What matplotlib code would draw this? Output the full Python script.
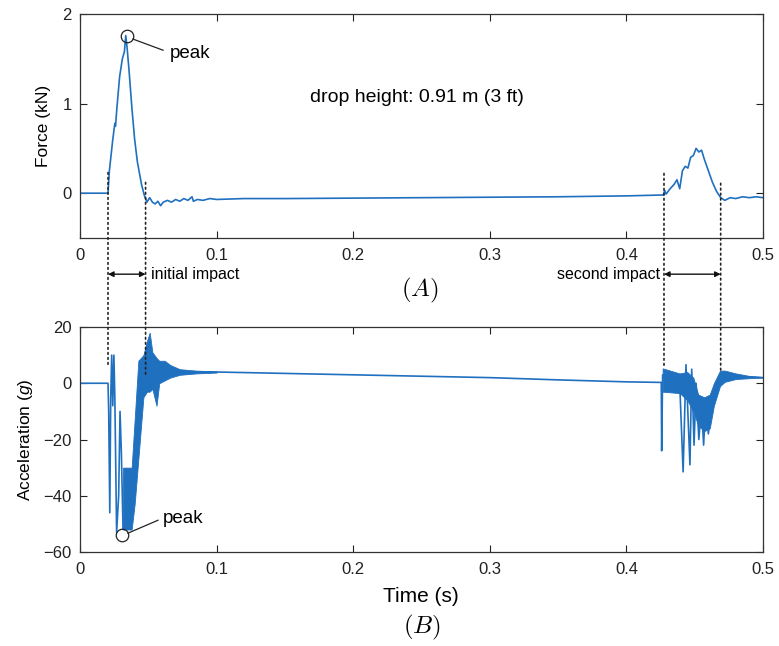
import matplotlib
matplotlib.use("Agg")
import matplotlib.pyplot as plt
from matplotlib.patches import ConnectionPatch

plt.rcParams['font.family'] = ['Liberation Sans', 'DejaVu Sans']
plt.rcParams['mathtext.fontset'] = 'custom'
plt.rcParams['mathtext.it'] = 'Liberation Sans:italic'
plt.rcParams['mathtext.rm'] = 'Liberation Sans'

### Data ###

# force trace (s, kN)
force_t = [0, 0.0205, 0.0215, 0.024, 0.0255, 0.026, 0.027, 0.029, 0.031, 0.0325,
           0.0335, 0.0345, 0.036, 0.038, 0.040, 0.042, 0.045, 0.047, 0.049, 0.051,
           0.053, 0.055, 0.057, 0.059, 0.061, 0.064, 0.067, 0.070, 0.073, 0.076,
           0.079, 0.082, 0.083, 0.086, 0.090, 0.095, 0.100, 0.120, 0.150, 0.200,
           0.250, 0.300, 0.350, 0.400, 0.427, 0.428, 0.429, 0.432, 0.435, 0.437,
           0.439, 0.441, 0.443, 0.445, 0.447, 0.449, 0.451, 0.453, 0.455, 0.457,
           0.460, 0.463, 0.466, 0.469, 0.472, 0.476, 0.480, 0.485, 0.490, 0.495, 0.500]
force_kn = [0, 0, 0.25, 0.6, 0.78, 0.75, 0.95, 1.3, 1.5, 1.58,
            1.76, 1.62, 1.35, 0.95, 0.6, 0.35, 0.1, -0.02, -0.1, -0.05,
            -0.1, -0.12, -0.09, -0.14, -0.1, -0.08, -0.1, -0.07, -0.09, -0.06,
            -0.08, -0.04, -0.09, -0.07, -0.08, -0.06, -0.07, -0.06, -0.06, -0.055,
            -0.05, -0.045, -0.04, -0.03, -0.02, 0.03, -0.01, 0.05, 0.1, 0.15,
            0.05, 0.25, 0.3, 0.28, 0.4, 0.42, 0.5, 0.46, 0.48, 0.38,
            0.25, 0.12, 0.02, -0.05, -0.08, -0.05, -0.06, -0.04, -0.05, -0.04, -0.05]

# acceleration trace, spikes (s, g)
acc_t = [0, 0.0205, 0.021, 0.0218, 0.0225, 0.0232, 0.024, 0.0248, 0.0255, 0.0268,
         0.0283, 0.0293, 0.0303, 0.0315, 0.039, 0.043, 0.050, 0.060, 0.070, 0.080,
         0.100, 0.150, 0.200, 0.250, 0.300, 0.350, 0.400, 0.4255, 0.4258, 0.4265,
         0.439, 0.4415, 0.4436, 0.4465, 0.4478, 0.4495, 0.451, 0.453, 0.455, 0.4565,
         0.458, 0.460, 0.463, 0.468, 0.480, 0.500]
acc_g = [0, 0, -10, -46, -5, 10, -8, 10, -5, -53,
         -40, -10, -25, -52, -40, -10, 5, 4, 4.5, 4,
         4, 3.5, 3, 2.5, 2, 1.2, 0.5, 0.3, -24, 3,
         0, -31.5, 6.6, -29, 5, -22, 0, -20, -8, -22,
         -8, -18, -5, 2, 2.5, 2]

# oscillation band of the acceleration trace: time, lower, upper (g)
band1_t = [0.0315, 0.0378, 0.040, 0.0427, 0.0464, 0.049, 0.051, 0.053, 0.056, 0.058,
           0.062, 0.066, 0.073, 0.085, 0.100]
band1_lo = [-52, -52, -43, -27, -5, -3, -3, -2, -8, 0, 1, 2, 3, 3.5, 3.8]
band1_hi = [-30, -30, -13, 8, 10, 15, 18, 11, 9, 8, 8, 6.5, 5, 4.5, 4.2]

band2_t = [0.4265, 0.439, 0.4445, 0.449, 0.4525, 0.457, 0.461, 0.464, 0.4685, 0.472,
           0.480, 0.490, 0.500]
band2_lo = [-3, -3.5, -6, -10, -15, -17, -16, -8, -1, 0.5, 1.5, 1.8, 2]
band2_hi = [5.3, 3.5, 4, 2, -4, -5, -4, 0, 4.5, 4.5, 3.5, 2.6, 2.2]

# impact markers: time, top end (kN), bottom end (g)
marker_t = [0.0205, 0.048, 0.4275, 0.469]
marker_top = [0.23, 0.12, 0.22, 0.11]
marker_bot = [6.4, 2.8, 5.3, 3.9]

xticks = [0, 0.1, 0.2, 0.3, 0.4, 0.5]
xticklabels = ['0', '0.1', '0.2', '0.3', '0.4', '0.5']

color = '#2070c0'

### Figure ###

fig = plt.figure(figsize=(7.79, 6.46), dpi=100)
ax1 = fig.add_axes([0.1027, 0.6316, 0.8768, 0.3467])
ax2 = fig.add_axes([0.1027, 0.1455, 0.8768, 0.3483])

for ax in (ax1, ax2):
    ax.set_xlim(0, 0.5)
    ax.set_xticks(xticks)
    ax.set_xticklabels(xticklabels)
    ax.tick_params(direction='in', top=True, right=True, length=5, width=0.8,
                   labelsize=12, colors='#222222')
    ax.tick_params(axis='x', pad=7)
    ax.tick_params(axis='y', pad=6)
    for s in ax.spines.values():
        s.set_color('#333333')
        s.set_linewidth(0.9)

# top: force
ax1.plot(force_t, force_kn, color=color, lw=1.2)
ax1.set_ylim(-0.5, 2)
ax1.set_yticks([0, 1, 2])
ax1.set_ylabel('Force (kN)', fontsize=12.5, labelpad=8)
ax1.text(0.2467, 1.07, 'drop height: 0.91 m (3 ft)', fontsize=14, ha='center', va='center')
ax1.plot([0.0344], [1.75], 'o', mfc='none', mec='#222222', ms=9, mew=0.9)
ax1.plot([0.0388, 0.0608], [1.72, 1.596], color='#222222', lw=0.9)
ax1.text(0.0659, 1.5625, 'peak', fontsize=13.5, ha='left', va='center')

# bottom: acceleration
ax2.fill_between(band1_t, band1_lo, band1_hi, color=color, lw=0.6)
ax2.fill_between(band2_t, band2_lo, band2_hi, color=color, lw=0.6)
ax2.plot(acc_t, acc_g, color=color, lw=1.2)
ax2.set_ylim(-60, 20)
ax2.set_yticks([-60, -40, -20, 0, 20])
ax2.set_yticklabels(['\u221260', '\u221240', '\u221220', '0', '20'])
ax2.set_ylabel('Acceleration ($g$)', fontsize=12.5, labelpad=6)
ax2.plot([0.0307], [-54], 'o', mfc='none', mec='#222222', ms=9, mew=0.9)
ax2.plot([0.0351, 0.0571], [-53.3, -48.7], color='#222222', lw=0.9)
ax2.text(0.0608, -48, 'peak', fontsize=13.5, ha='left', va='center')

# dotted impact markers spanning both panels
for t, yt, yb in zip(marker_t, marker_top, marker_bot):
    con = ConnectionPatch(xyA=(t, yt), coordsA=ax1.transData,
                          xyB=(t, yb), coordsB=ax2.transData,
                          linestyle=(0, (1, 2)), color='#222222', lw=1.2)
    fig.add_artist(con)

# impact duration arrows
arr = dict(arrowstyle='<|-|>', color='#111111', lw=1.0, mutation_scale=8,
           shrinkA=0, shrinkB=0)
ax1.annotate('', xy=(marker_t[0], -0.904), xytext=(marker_t[1], -0.904),
             arrowprops=arr, annotation_clip=False)
ax1.text(0.0522, -0.904, 'initial impact', fontsize=11.5, ha='left', va='center',
         clip_on=False)
ax1.annotate('', xy=(marker_t[2], -0.904), xytext=(marker_t[3], -0.904),
             arrowprops=arr, annotation_clip=False)
ax1.text(0.4245, -0.904, 'second impact', fontsize=11.5, ha='right', va='center',
         clip_on=False)

fig.text(420 / 779, 1 - 290 / 646, '$(A)$', fontsize=18, ha='center', va='center',
         math_fontfamily='cm')
fig.text(421 / 779, 1 - 597 / 646, 'Time (s)', fontsize=15, ha='center', va='center')
fig.text(422 / 779, 1 - 627 / 646, '$(B)$', fontsize=18, ha='center', va='center',
         math_fontfamily='cm')

fig.savefig('out.png', dpi=100)
